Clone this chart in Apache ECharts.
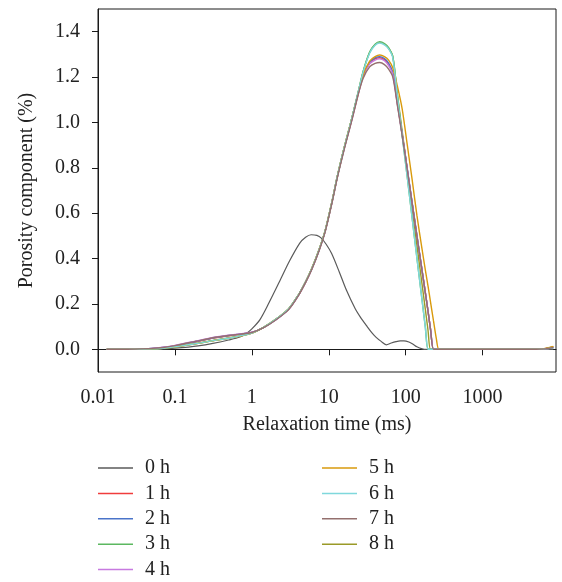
<!DOCTYPE html>
<html>
<head>
<meta charset="utf-8">
<script src="https://cdn.jsdelivr.net/npm/echarts@6/dist/echarts.min.js"></script>
<style>html,body{margin:0;padding:0;background:#fff;}#c{width:562px;height:582px;}</style>
</head>
<body>
<div id="c"></div>
<script>
// Relaxation times (ms) for the 1–8 h curves
const timesMain = [0.013, 0.02, 0.03, 0.05, 0.07, 0.1, 0.15, 0.2, 0.3, 0.5, 0.7, 1, 1.4, 2, 3, 4, 5, 6, 7.5, 9, 11, 13, 16, 20, 24, 28, 34, 40, 46, 53, 60, 68, 78, 90, 105, 120, 140, 160, 180, 195, 210, 230, 250, 270, 300, 1000, 5000, 6500, 8300];
// Relaxation times (ms) for the 0 h curve
const times0h = [0.013, 0.02, 0.03, 0.05, 0.07, 0.1, 0.15, 0.2, 0.3, 0.5, 0.7, 0.85, 1.0, 1.27, 1.67, 2.3, 3.1, 4.2, 5.0, 5.9, 7.0, 8.0, 9.3, 10.9, 13.7, 17, 22, 26, 31, 36, 41, 48, 56, 65, 75, 85, 95, 110, 125, 140, 160, 176, 1000, 8300];

const h0 = [0, 0, 0, 0.001, 0.002, 0.005, 0.01, 0.015, 0.025, 0.041, 0.054, 0.07, 0.09, 0.13, 0.205, 0.30, 0.39, 0.468, 0.494, 0.505, 0.502, 0.49, 0.462, 0.422, 0.341, 0.26, 0.18, 0.14, 0.104, 0.075, 0.054, 0.035, 0.02, 0.028, 0.034, 0.037, 0.037, 0.032, 0.022, 0.011, 0.003, 0, 0, 0];
const h1 = [0, 0, 0.001, 0.003, 0.007, 0.014, 0.027, 0.035, 0.048, 0.060, 0.066, 0.074,
  0.095, 0.128, 0.176, 0.236, 0.296, 0.353, 0.438, 0.522, 0.648, 0.764, 0.89, 1.015,
  1.125, 1.205, 1.262, 1.28, 1.285, 1.277, 1.257, 1.215,
  1.085, 0.948, 0.792, 0.656, 0.5, 0.368, 0.25, 0.17, 0.09, 0, 0, 0, 0,
  0, 0, 0.003, 0.009];
const h2 = [0, 0, 0.001, 0.004, 0.008, 0.015, 0.028, 0.036, 0.049, 0.061, 0.067, 0.074,
  0.095, 0.128, 0.177, 0.237, 0.297, 0.354, 0.439, 0.523, 0.649, 0.765, 0.892, 1.018,
  1.127, 1.207, 1.265, 1.285, 1.29, 1.282, 1.262, 1.22,
  1.09, 0.95, 0.795, 0.66, 0.503, 0.37, 0.252, 0.17, 0.09, 0, 0, 0, 0,
  0, 0, 0.003, 0.009];
const h3 = [0, 0, 0.001, 0.002, 0.005, 0.011, 0.021, 0.027, 0.038, 0.05, 0.059, 0.072,
  0.096, 0.13, 0.178, 0.238, 0.298, 0.355, 0.44, 0.524, 0.65, 0.766, 0.893, 1.02,
  1.13, 1.225, 1.31, 1.345, 1.356, 1.348, 1.33, 1.29,
  1.12, 0.944, 0.758, 0.593, 0.403, 0.242, 0.099, 0, 0, 0, 0, 0, 0,
  0, 0, 0.002, 0.007];
const h4 = [0, 0, 0.001, 0.004, 0.009, 0.017, 0.03, 0.038, 0.051, 0.062, 0.068, 0.075,
  0.095, 0.127, 0.175, 0.235, 0.295, 0.352, 0.437, 0.52, 0.646, 0.762, 0.888, 1.013,
  1.12, 1.2, 1.258, 1.275, 1.28, 1.272, 1.25, 1.21,
  1.08, 0.946, 0.79, 0.655, 0.499, 0.367, 0.25, 0.168, 0.09, 0, 0, 0, 0,
  0, 0, 0.002, 0.008];
const h5 = [0, 0, 0.001, 0.002, 0.005, 0.01, 0.02, 0.026, 0.037, 0.049, 0.058, 0.071,
  0.096, 0.13, 0.178, 0.238, 0.298, 0.356, 0.441, 0.525, 0.651, 0.767, 0.894, 1.02,
  1.125, 1.21, 1.27, 1.29, 1.297, 1.29, 1.275, 1.24,
  1.16, 1.06, 0.9, 0.76, 0.59, 0.46, 0.35, 0.28, 0.21, 0.125, 0.048, 0, 0,
  0, 0, 0.004, 0.013];
const h6 = [0, 0, 0.001, 0.002, 0.005, 0.011, 0.02, 0.026, 0.037, 0.049, 0.059, 0.072,
  0.096, 0.13, 0.178, 0.238, 0.298, 0.355, 0.44, 0.524, 0.65, 0.766, 0.893, 1.02,
  1.13, 1.222, 1.305, 1.34, 1.35, 1.342, 1.324, 1.285,
  1.115, 0.942, 0.757, 0.592, 0.402, 0.24, 0.098, 0, 0, 0, 0, 0, 0,
  0, 0, 0.002, 0.007];
const h7 = [0, 0, 0.001, 0.004, 0.008, 0.016, 0.029, 0.037, 0.05, 0.061, 0.067, 0.074,
  0.094, 0.127, 0.175, 0.235, 0.295, 0.352, 0.436, 0.52, 0.645, 0.76, 0.886, 1.01,
  1.12, 1.195, 1.245, 1.26, 1.264, 1.255, 1.235, 1.2,
  1.075, 0.942, 0.789, 0.654, 0.498, 0.366, 0.249, 0.168, 0.09, 0, 0, 0, 0,
  0, 0, 0.002, 0.008];
const h8 = [0, 0, 0.001, 0.002, 0.005, 0.01, 0.019, 0.026, 0.037, 0.049, 0.059, 0.072,
  0.096, 0.13, 0.178, 0.238, 0.298, 0.355, 0.44, 0.524, 0.65, 0.766, 0.893, 1.02,
  1.13, 1.224, 1.308, 1.342, 1.353, 1.345, 1.327, 1.29,
  1.125, 0.962, 0.789, 0.636, 0.459, 0.309, 0.177, 0.085, 0, 0, 0, 0, 0,
  0, 0, 0.003, 0.012];

const seriesNames = ['0 h', '1 h', '2 h', '3 h', '4 h', '5 h', '6 h', '7 h', '8 h'];
const seriesColors = ['#5a5a5a', '#f03c3c', '#4a74c9', '#5cb860', '#c77ae0', '#d99a0c', '#7fd8dc', '#94706e', '#9a9a28'];
const xTickValues = [0.01, 0.1, 1, 10, 100, 1000];
const xTickLabels = ['0.01', '0.1', '1', '10', '100', '1000'];
const yTickValues = [0, 0.2, 0.4, 0.6, 0.8, 1.0, 1.2, 1.4];

const FONT = 'Liberation Serif';
const TXT = '#222';

function pairs(xs, ys) { return xs.map((x, i) => [x, ys[i]]); }
const seriesData = [pairs(times0h, h0), pairs(timesMain, h1), pairs(timesMain, h2), pairs(timesMain, h3),
  pairs(timesMain, h4), pairs(timesMain, h5), pairs(timesMain, h6), pairs(timesMain, h7), pairs(timesMain, h8)];

const legendBase = {orient: 'vertical', top: 458, padding: 0, icon: 'rect', itemWidth: 35, itemHeight: 1.5, itemGap: 5.4,
  height: 124, textStyle: {fontFamily: FONT, fontSize: 20, color: TXT, padding: [0, 0, 0, 7]}, selectedMode: false};

const chart = echarts.init(document.getElementById('c'), null, {renderer: 'canvas'});
chart.setOption({
  animation: false,
  backgroundColor: '#fff',
  textStyle: {fontFamily: FONT},
  grid: {left: 98, top: 9, right: 6, bottom: 210, show: true, borderColor: '#1a1a1a', borderWidth: 1, backgroundColor: 'transparent'},
  xAxis: {
    type: 'log', logBase: 10, min: 0.01, max: 9000,
    name: 'Relaxation time (ms)', nameLocation: 'middle', nameGap: 43,
    nameTextStyle: {fontFamily: FONT, fontSize: 20, color: TXT},
    axisLine: {show: true, lineStyle: {color: '#1a1a1a', width: 1}},
    axisTick: {show: true, length: 6, lineStyle: {color: '#1a1a1a'}, customValues: xTickValues},
    axisLabel: {fontFamily: FONT, fontSize: 20, color: TXT, margin: 16, customValues: xTickValues,
      formatter: function (v) { const e = Math.round(Math.log10(v)); const i = xTickValues.findIndex(t => Math.round(Math.log10(t)) === e); return i >= 0 ? xTickLabels[i] : ''; }},
    splitLine: {show: false}, minorTick: {show: false}
  },
  yAxis: {
    type: 'value', min: -0.1, max: 1.5,
    name: 'Porosity component (%)', nameLocation: 'middle', nameGap: 61,
    nameTextStyle: {fontFamily: FONT, fontSize: 20, color: TXT},
    axisLine: {show: true, lineStyle: {color: '#1a1a1a', width: 1}},
    axisTick: {show: true, length: 6, lineStyle: {color: '#1a1a1a'}, customValues: yTickValues},
    axisLabel: {fontFamily: FONT, fontSize: 20, color: TXT, margin: 18, customValues: yTickValues,
      formatter: function (v) { return Number(v).toFixed(1); }},
    splitLine: {show: false}
  },
  legend: [
    Object.assign({}, legendBase, {data: seriesNames.slice(0, 5), left: 98}),
    Object.assign({}, legendBase, {data: seriesNames.slice(5), left: 322})
  ],
  series: seriesNames.map((n, i) => ({
    name: n, type: 'line', data: seriesData[i], showSymbol: false, symbol: 'none',
    smooth: 0.3,
    z: i === 8 ? 1 : 2,
    lineStyle: {color: seriesColors[i], width: i === 0 ? 1.2 : 1.4},
    itemStyle: {color: seriesColors[i]}
  }))
});
</script>
</body>
</html>
